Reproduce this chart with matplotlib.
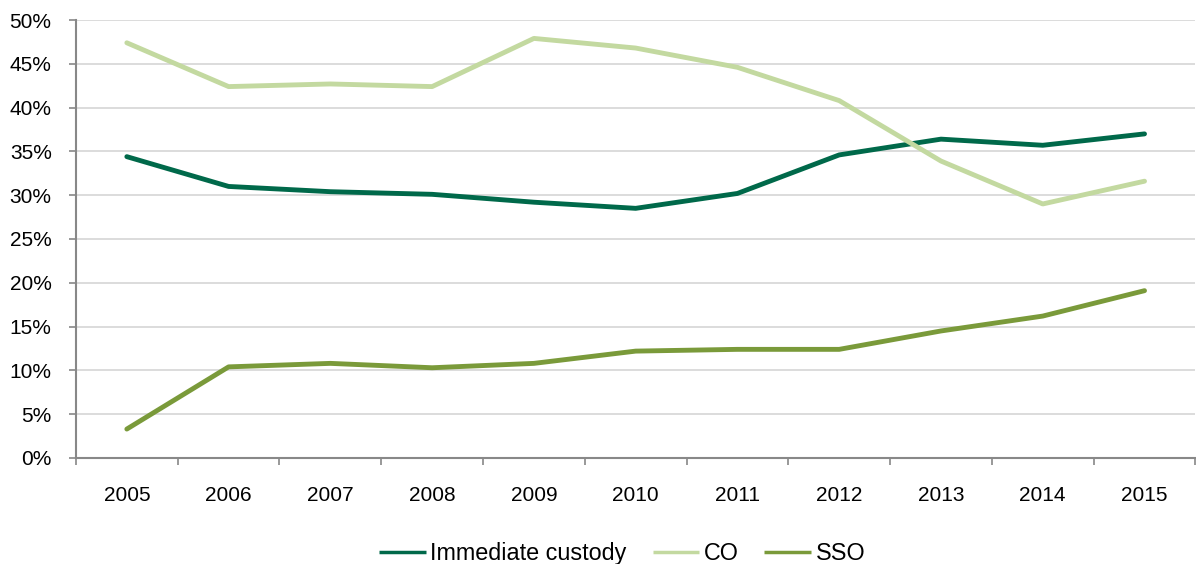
import matplotlib
matplotlib.use("Agg")
import matplotlib.pyplot as plt
import numpy as np
from matplotlib.ticker import PercentFormatter

plt.rcParams["font.family"] = ["Liberation Sans", "DejaVu Sans"]

years = ["2005", "2006", "2007", "2008", "2009", "2010",
         "2011", "2012", "2013", "2014", "2015"]
immediate_custody = [34.4, 31.0, 30.4, 30.1, 29.2, 28.5, 30.2, 34.6, 36.4, 35.7, 37.0]
co = [47.4, 42.4, 42.7, 42.4, 47.9, 46.8, 44.6, 40.8, 33.9, 29.0, 31.6]
sso = [3.3, 10.4, 10.8, 10.3, 10.8, 12.2, 12.4, 12.4, 14.5, 16.2, 19.1]

fig = plt.figure(figsize=(11.96, 5.64), dpi=100)
ax = fig.add_axes([0.0635, 0.188, 0.936, 0.7765])

x = np.arange(len(years))
ax.plot(x, immediate_custody, color="#00694A", lw=3.5, solid_capstyle="round",
        label="Immediate custody")
ax.plot(x, co, color="#C3D9A0", lw=3.5, solid_capstyle="round", label="CO")
ax.plot(x, sso, color="#7A9A3A", lw=3.5, solid_capstyle="round", label="SSO")

ax.set_xlim(-0.5, len(years) - 0.5)
ax.set_ylim(0, 50)
ax.set_yticks(np.arange(0, 51, 5))
ax.yaxis.set_major_formatter(PercentFormatter(decimals=0))
ax.set_xticks(x)
ax.set_xticklabels(years)
# tick marks sit between categories
ax.set_xticks(np.arange(-0.5, len(years)), minor=True)
ax.tick_params(axis="x", which="major", length=0, pad=20, labelsize=15)
ax.tick_params(axis="x", which="minor", length=5, color="#888888", width=1.2)
ax.tick_params(axis="y", length=5, color="#888888", width=1.2, labelsize=15, pad=12.5)

ax.grid(axis="y", color="#D9D9D9", lw=1.3)
ax.set_axisbelow(True)
for side in ["top", "right"]:
    ax.spines[side].set_visible(False)
for side in ["left", "bottom"]:
    ax.spines[side].set_color("#888888")
    ax.spines[side].set_linewidth(1.5)

leg = ax.legend(loc="center", bbox_to_anchor=(0.488, -0.218), ncol=3, frameon=False,
                fontsize=16.8, handlelength=2.0, handletextpad=0.2, columnspacing=1.1)
for line in leg.get_lines():
    line.set_linewidth(2.5)
    line.set_solid_capstyle("butt")

fig.savefig("out.png", dpi=100)
